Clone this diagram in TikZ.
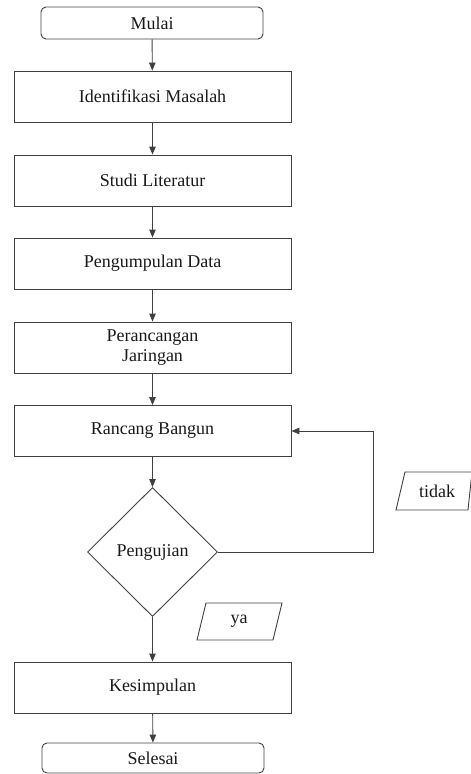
\documentclass[tikz,border=0pt]{standalone}
\usepackage{fontspec}
\setmainfont{Liberation Serif}
\usetikzlibrary{shapes.geometric,arrows.meta}
\begin{document}
\begin{tikzpicture}[x=1pt,y=-1pt,
  every node/.style={font=\fontsize{18}{20.5}\selectfont, text=black!90},
  line/.style={draw=black!75, line width=0.9pt},
  arr/.style={line, -{Triangle[length=8pt,width=6.5pt]}},
  term/.style={line, rounded corners=5pt, minimum width=222pt, inner sep=0pt},
  proc/.style={line, minimum width=277pt, minimum height=51pt, inner sep=0pt, align=center},
  dec/.style={line, diamond, minimum width=130pt, minimum height=129pt, inner sep=0pt}]
\useasboundingbox (0,0) rectangle (471,774);
\node[term, minimum height=32pt] (mulai) at (152,23) {Mulai};
\node[proc] (id) at (152.5,96.5) {Identifikasi Masalah};
\node[proc] (studi) at (152.5,180.5) {Studi Literatur};
\node[proc] (data) at (152.5,263.5) {Pengumpulan Data};
\node[proc] (peranc) at (152.5,347.5) {Perancangan\\Jaringan};
\node[proc] (rancang) at (152.5,431) {Rancang Bangun};
\node[dec] (uji) at (152.5,552) {Pengujian};
\node[proc] (kes) at (152.5,687.5) {Kesimpulan};
\node[term, minimum height=30pt] (selesai) at (153,758) {Selesai};
\draw[line] (405,472) -- (472,472) -- (468,510) -- (396,510) -- cycle;
\node (tidak) at (437,491) {tidak};
\draw[line] (206,603) -- (282,603) -- (273,640) -- (197,640) -- cycle;
\node (ya) at (239,621) {ya};
\draw[arr] (mulai) -- (id);
\draw[arr] (id) -- (studi);
\draw[arr] (studi) -- (data);
\draw[arr] (data) -- (peranc);
\draw[arr] (peranc) -- (rancang);
\draw[arr] (rancang) -- (uji);
\draw[arr] (uji) -- (kes);
\draw[arr] (kes) -- (selesai);
\coordinate (fb) at (373,552);
\draw[arr] (uji.east) -- (fb) |- (rancang.east);
\end{tikzpicture}
\end{document}
